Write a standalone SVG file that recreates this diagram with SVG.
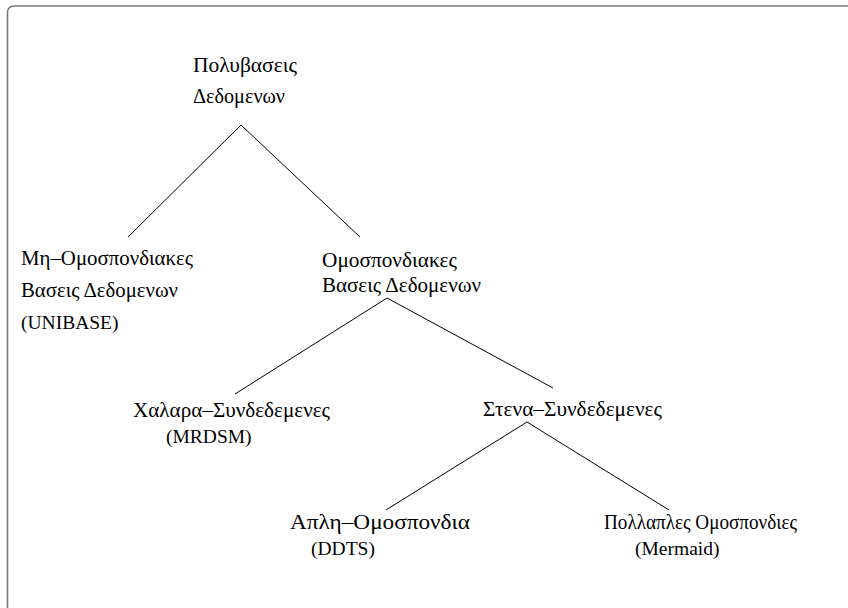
<svg xmlns="http://www.w3.org/2000/svg" width="848" height="608" viewBox="0 0 848 608">
<style>
text{font-family:'Liberation Serif','DejaVu Serif',serif;font-size:19.5px;fill:#000}
text.g{font-size:20px}
.ln{stroke:#000;stroke-width:1;fill:none}
</style>
<rect x="0" y="0" width="848" height="608" fill="#fff"/>
<path d="M7.5,620 V12 A6,6 0 0 1 13.5,6 H860" fill="none" stroke="#777" stroke-width="1.6"/>
<g id="connectors">
<line class="ln" x1="241" y1="125" x2="128" y2="237"/>
<line class="ln" x1="241" y1="125" x2="360" y2="237"/>
<line class="ln" x1="387" y1="298" x2="235" y2="394"/>
<line class="ln" x1="387" y1="298" x2="553" y2="388"/>
<line class="ln" x1="527" y1="422" x2="386" y2="510"/>
<line class="ln" x1="527" y1="422" x2="669" y2="510"/>
</g>
<g id="root"><text class="g" x="193" y="72" textLength="104" lengthAdjust="spacingAndGlyphs">Πολυβασεις</text><text class="g" x="193" y="103" textLength="92" lengthAdjust="spacingAndGlyphs">Δεδομενων</text></g>
<g id="nonfed"><text class="g" x="21" y="265" textLength="172" lengthAdjust="spacingAndGlyphs">Μη–Ομοσπονδιακες</text><text class="g" x="21" y="297" textLength="157" lengthAdjust="spacingAndGlyphs">Βασεις Δεδομενων</text><text x="21" y="329">(UNIBASE)</text></g>
<g id="fed"><text class="g" x="322" y="267" textLength="135" lengthAdjust="spacingAndGlyphs">Ομοσπονδιακες</text><text class="g" x="322" y="292" textLength="159" lengthAdjust="spacingAndGlyphs">Βασεις Δεδομενων</text></g>
<g id="loose"><text class="g" x="133" y="417" textLength="197" lengthAdjust="spacingAndGlyphs">Χαλαρα–Συνδεδεμενες</text><text x="166" y="443">(MRDSM)</text></g>
<g id="tight"><text class="g" x="483" y="416" textLength="179" lengthAdjust="spacingAndGlyphs">Στενα–Συνδεδεμενες</text></g>
<g id="simple"><text class="g" x="290" y="529" textLength="180" lengthAdjust="spacingAndGlyphs">Απλη–Ομοσπονδια</text><text x="311" y="555">(DDTS)</text></g>
<g id="multi"><text class="g" x="604" y="529" textLength="193" lengthAdjust="spacingAndGlyphs">Πολλαπλες Ομοσπονδιες</text><text x="635" y="555">(Mermaid)</text></g>
</svg>
